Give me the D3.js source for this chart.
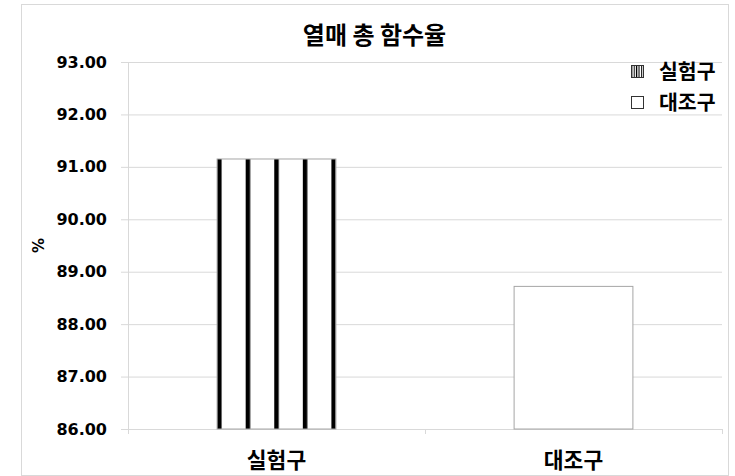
<!DOCTYPE html>
<html>
<head>
<meta charset="utf-8">
<script src="https://cdn.jsdelivr.net/npm/d3@7"></script>
<style>
  html, body { margin: 0; padding: 0; background: #fff; }
  svg { display: block; }
</style>
</head>
<body>
<svg id="chart" width="735" height="476"></svg>
<script>
// Fruit total moisture content by plot
const title = "열매 총 함수율";
const categories = ["실험구", "대조구"];
const values = [91.15, 88.72];
const yTicks = [86, 87, 88, 89, 90, 91, 92, 93];
const yLabel = "%";

const W = 735, H = 476;
const frame = { left: 21, top: 4, right: 728, bottom: 475 };
const plot = { left: 128, top: 62, right: 722, bottom: 429 };

const svg = d3.select("#chart");
const defs = svg.append("defs");

const numFont = "'DejaVu Sans', Verdana, sans-serif";
const krFont = "'Noto Sans CJK KR', 'Noto Sans', sans-serif";
const gridColor = "#d9d9d9";

// Chart frame
svg.append("rect")
  .attr("x", frame.left + 0.5).attr("y", frame.top + 0.5)
  .attr("width", frame.right - frame.left).attr("height", frame.bottom - frame.top)
  .attr("fill", "#fff").attr("stroke", gridColor).attr("stroke-width", 1);

const x = d3.scaleBand().domain(categories).range([plot.left, plot.right]).padding(0);
const y = d3.scaleLinear().domain([d3.min(yTicks), d3.max(yTicks)]).range([plot.bottom, plot.top]);
const barW = x.bandwidth() * 0.4;

// Horizontal gridlines and y axis
const yAxis = d3.axisLeft(y).tickValues(yTicks).tickFormat(d3.format(".2f"))
  .tickSize(-(plot.right - plot.left)).tickSizeOuter(0).tickPadding(21);
const gy = svg.append("g").attr("transform", `translate(${plot.left},0)`).call(yAxis);
gy.select(".domain").attr("stroke", gridColor);
gy.selectAll(".tick line").attr("stroke", gridColor).attr("x1", -7);
gy.selectAll(".tick text")
  .attr("font-family", numFont).attr("font-weight", "bold")
  .attr("font-size", 16).attr("fill", "#000");

// Category axis with boundary ticks
const gx = svg.append("g").attr("transform", `translate(0,${plot.bottom})`);
gx.append("line").attr("x1", plot.left).attr("x2", plot.right)
  .attr("y1", 0.5).attr("y2", 0.5).attr("stroke", gridColor);
const bounds = categories.map(c => x(c)).concat([x(categories[categories.length - 1]) + x.bandwidth()]);
gx.selectAll("line.bound").data(bounds).join("line").attr("class", "bound")
  .attr("x1", d => Math.round(d) + 0.5).attr("x2", d => Math.round(d) + 0.5)
  .attr("y1", 0).attr("y2", 5).attr("stroke", gridColor);
gx.selectAll("text").data(categories).join("text")
  .attr("x", d => x(d) + x.bandwidth() / 2).attr("y", 39)
  .attr("text-anchor", "middle")
  .attr("font-family", krFont).attr("font-weight", "bold").attr("font-size", 21.5)
  .attr("fill", "#000").text(d => d);

// Vertical stripe fill for the treatment bar
const stripeW = 4.5;
const bar0x = x(categories[0]) + (x.bandwidth() - barW) / 2;
const period = (barW - stripeW) / 4;
const pat = defs.append("pattern").attr("id", "stripes")
  .attr("patternUnits", "userSpaceOnUse")
  .attr("x", bar0x).attr("y", 0).attr("width", period).attr("height", 10);
pat.append("rect").attr("width", period).attr("height", 10).attr("fill", "#fff");
pat.append("rect").attr("width", stripeW).attr("height", 10).attr("fill", "#000");

// Small stripe fill for the legend swatch
const patS = defs.append("pattern").attr("id", "stripesSmall")
  .attr("patternUnits", "userSpaceOnUse")
  .attr("x", 0).attr("y", 0).attr("width", 2.4).attr("height", 10);
patS.append("rect").attr("width", 2.4).attr("height", 10).attr("fill", "#fff");
patS.append("rect").attr("width", 1.1).attr("height", 10).attr("fill", "#000");

const fills = ["url(#stripes)", "#fff"];

// Bars
svg.append("g").selectAll("rect").data(values).join("rect")
  .attr("x", (d, i) => x(categories[i]) + (x.bandwidth() - barW) / 2)
  .attr("y", d => y(d))
  .attr("width", barW)
  .attr("height", d => y(d3.min(yTicks)) - y(d))
  .attr("fill", (d, i) => fills[i])
  .attr("stroke", "#a6a6a6").attr("stroke-width", 1);

// Legend
const lg = svg.append("g").attr("transform", "translate(631,0)");
categories.forEach((c, i) => {
  const cy = 72 + i * 31;
  const sw = lg.append("rect").attr("x", 0.5).attr("y", cy - 6.5)
    .attr("width", 12).attr("height", 12)
    .attr("stroke", "#333").attr("stroke-width", 1);
  if (i === 0) {
    patS.attr("x", 631.5).attr("y", cy - 6.5);
    sw.attr("fill", "url(#stripesSmall)");
  } else {
    sw.attr("fill", "#fff");
  }
  lg.append("text").attr("x", 28).attr("y", cy).attr("dy", "0.36em")
    .attr("font-family", krFont).attr("font-weight", "bold").attr("font-size", 20.5)
    .attr("fill", "#000").text(c);
});

// Title
svg.append("text").attr("x", (frame.left + frame.right) / 2).attr("y", 44)
  .attr("text-anchor", "middle")
  .attr("font-family", krFont).attr("font-weight", "bold").attr("font-size", 24)
  .attr("fill", "#000").text(title);

// Y axis label
svg.append("text")
  .attr("transform", `translate(44,${(plot.top + plot.bottom) / 2}) rotate(-90)`)
  .attr("text-anchor", "middle")
  .attr("font-family", numFont).attr("font-weight", "bold").attr("font-size", 15)
  .attr("fill", "#000").text(yLabel);
</script>
</body>
</html>
